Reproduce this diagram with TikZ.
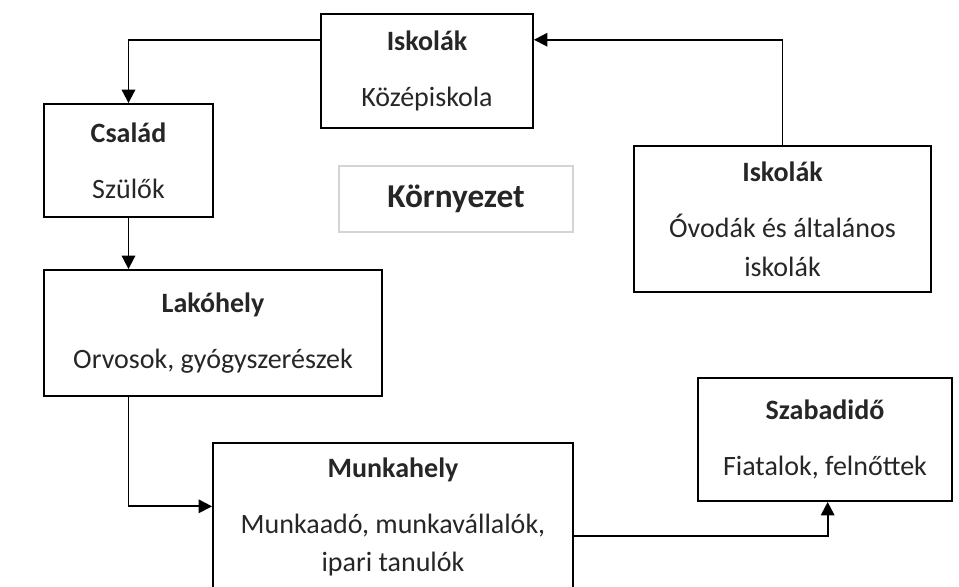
\documentclass[tikz,border=0pt]{standalone}
\usepackage{fontspec}
\setmainfont{Carlito}
\usepackage{tikz}
\usetikzlibrary{arrows.meta, positioning}
\definecolor{framegray}{HTML}{D4D4D4}
\definecolor{inkgray}{HTML}{262626}

\tikzset{
  envbox/.style={draw, line width=1.4pt, align=center, inner sep=0pt, text=inkgray,
                 font=\fontsize{21}{29}\selectfont},
  link/.style={line width=1.4pt, -{Triangle[length=10pt, width=10pt]}}
}

\begin{document}
\begin{tikzpicture}[x=0.75pt, y=-0.75pt]
  \useasboundingbox (0,0) rectangle (959,586);
  \clip (0,0) rectangle (959,586);

  %% Boxes
  \node[envbox, minimum width=159pt, minimum height=85.5pt] (kozep) at (427,71)
    {\textbf{Iskolák}\\[13pt]Középiskola};
  \node[envbox, minimum width=126.75pt, minimum height=84.75pt] (csalad) at (128.5,160.5)
    {\textbf{Család}\\[13pt]Szülők};
  \node[envbox, draw=framegray, line width=0.8pt, minimum width=175.5pt, minimum height=49.5pt,
        font=\fontsize{25}{29}\selectfont\bfseries] (kornyezet) at (456,199)
    {Környezet};
  \node[envbox, minimum width=222.75pt, minimum height=109.5pt] (ovoda) at (782.5,219)
    {\textbf{Iskolák}\\[13pt]Óvodák és általános\\iskolák};
  \node[envbox, minimum width=253.5pt, minimum height=94.5pt] (lakohely) at (213,333)
    {\textbf{Lakóhely}\\[13pt]Orvosok, gyógyszerészek};
  \node[envbox, minimum width=270pt, minimum height=111pt] (munka) at (393,517)
    {\textbf{Munkahely}\\[13pt]Munkaadó, munkavállalók,\\ipari tanulók};
  \node[envbox, minimum width=190.5pt, minimum height=92.25pt] (szabad) at (825,439.5)
    {\textbf{Szabadidő}\\[13pt]Fiatalok, felnőttek};

  %% Connectors
  \draw[link] ([yshift=-20pt]kozep.north west) -| (csalad.north);
  \draw[link] (csalad.south) -- (csalad.south |- lakohely.north);
  \draw[link] (lakohely.south -| csalad.south) |- ([yshift=8pt]munka.west);
  \draw[link] (ovoda.north) |- ([yshift=-20pt]kozep.north east);
  \draw[link] ([yshift=-14pt]munka.east) -| ([xshift=2pt]szabad.south);
\end{tikzpicture}
\end{document}
